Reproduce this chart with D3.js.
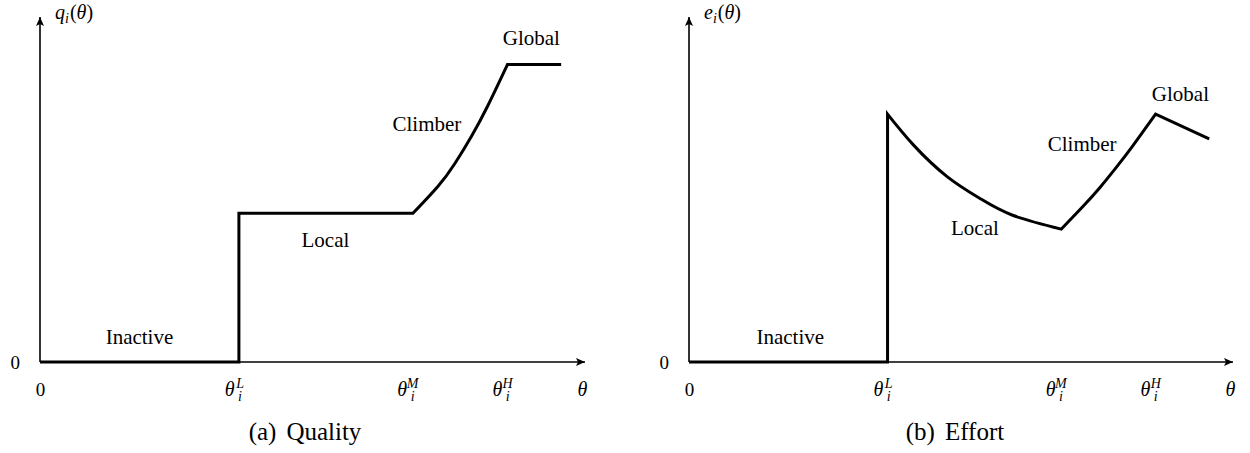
<!DOCTYPE html>
<html><head><meta charset="utf-8">
<script src="https://cdn.jsdelivr.net/npm/d3@7"></script>
<style>
body{margin:0;background:#fff}
svg{display:block}
</style>
</head><body>
<svg id="c" width="1250" height="453"></svg>
<script>
// ---------- data ----------
const thetaTickValues = [0, 2, 3.75, 4.7, 5.5];
const thetaTickLabels = ["0", "θ_i^L", "θ_i^M", "θ_i^H", "θ"];
const valueTickValues = [0];
const valueTickLabels = ["0"];
const regimeNames = ["Inactive", "Local", "Climber", "Global"];

// (a) Quality q_i(θ)
const qInactiveTheta = [0, 2];
const qInactiveValue = [0, 0];
const qLocalTheta = [2, 3.75];
const qLocalValue = [1.5, 1.5];
const qClimberTheta = [3.75, 4.0, 4.17, 4.34, 4.5, 4.7];
const qClimberValue = [1.5, 1.77, 2.0, 2.28, 2.58, 3.0];
const qGlobalTheta = [4.7, 5.24];
const qGlobalValue = [3.0, 3.0];

// (b) Effort e_i(θ)
const eInactiveTheta = [0, 2];
const eInactiveValue = [0, 0];
const eLocalTheta = [2.0, 2.26, 2.6, 2.93, 3.26, 3.75];
const eLocalValue = [2.5, 2.19, 1.87, 1.65, 1.48, 1.34];
const eClimberTheta = [3.75, 3.97, 4.14, 4.31, 4.47, 4.7];
const eClimberValue = [1.34, 1.57, 1.76, 1.97, 2.18, 2.5];
const eGlobalTheta = [4.7, 5.24];
const eGlobalValue = [2.5, 2.25];

const thetaDomain = [0, 5.5];
const valueDomain = [0, 3.5];

// ---------- layout ----------
const FONT = "Liberation Serif";
const svg = d3.select("#c");
const defs = svg.append("defs");
defs.append("marker").attr("id", "arr")
  .attr("markerUnits", "userSpaceOnUse")
  .attr("viewBox", "-10 -5 12 10").attr("refX", 0).attr("refY", 0)
  .attr("markerWidth", 12).attr("markerHeight", 10).attr("orient", "auto")
  .append("path").attr("d", "M-9,-4 L0,0 L-9,4 L-7,0 Z").attr("fill", "#000");

const panels = [
  {
    left: 40, right: 587, base: 362, top: 15,
    yName: "q", caption: ["(a)", "Quality"], capX: 305,
    pieces: [
      [qInactiveTheta, qInactiveValue, false],
      [qLocalTheta, qLocalValue, false],
      [qClimberTheta, qClimberValue, true],
      [qGlobalTheta, qGlobalValue, false]
    ],
    labelPos: [[1.0, 0.18], [2.87, 1.16], [3.89, 2.33], [4.94, 3.2]]
  },
  {
    left: 689, right: 1235, base: 362, top: 15,
    yName: "e", caption: ["(b)", "Effort"], capX: 955,
    pieces: [
      [eInactiveTheta, eInactiveValue, false],
      [eLocalTheta, eLocalValue, true],
      [eClimberTheta, eClimberValue, true],
      [eGlobalTheta, eGlobalValue, false]
    ],
    labelPos: [[1.02, 0.18], [2.88, 1.28], [3.96, 2.13], [4.95, 2.63]]
  }
];

function txt(sel) {
  return sel.append("text").style("font-family", FONT).attr("fill", "#000");
}

panels.forEach(p => {
  const x = d3.scaleLinear().domain(thetaDomain).range([p.left, p.right]);
  const y = d3.scaleLinear().domain(valueDomain).range([p.base, p.top]);
  const g = svg.append("g");

  // axis lines with arrows
  g.append("line")
    .attr("x1", x(0)).attr("y1", y(0)).attr("x2", x(thetaDomain[1]) - 2).attr("y2", y(0))
    .attr("stroke", "#000").attr("stroke-width", 1.6).attr("marker-end", "url(#arr)");
  g.append("line")
    .attr("x1", x(0)).attr("y1", y(0)).attr("x2", x(0)).attr("y2", y(valueDomain[1]) + 2)
    .attr("stroke", "#000").attr("stroke-width", 1.6).attr("marker-end", "url(#arr)");

  // x ticks (labels only)
  const xAxis = g.append("g").attr("transform", `translate(0,${y(0)})`)
    .call(d3.axisBottom(x).tickValues(thetaTickValues).tickSize(0).tickFormat(""));
  xAxis.select(".domain").remove();
  xAxis.selectAll(".tick").each(function(d, i) {
    const lab = thetaTickLabels[i];
    const t = txt(d3.select(this)).attr("y", 34).style("font-size", "20px");
    if (lab === "0") {
      t.attr("text-anchor", "middle").style("font-size", "19px").text("0");
      return;
    }
    const m = lab.match(/^(.)(?:_(.))?(?:\^(.))?$/);
    t.append("tspan").style("font-style", "italic").text(m[1]);
    if (m[2]) {
      const w = t.node().getComputedTextLength();
      t.append("tspan").attr("x", w + 0.5).attr("y", 39).style("font-size", "14px")
        .style("font-style", "italic").text(m[2]);
      t.append("tspan").attr("x", w + 0.5).attr("y", 26).style("font-size", "14px")
        .style("font-style", "italic").text(m[3]);
    }
    const bb = t.node().getBBox();
    t.attr("transform", `translate(${-bb.width / 2},0)`);
  });

  // y tick
  const yAxis = g.append("g").attr("transform", `translate(${x(0)},0)`)
    .call(d3.axisLeft(y).tickValues(valueTickValues).tickSize(0).tickPadding(20)
      .tickFormat((d, i) => valueTickLabels[i]));
  yAxis.select(".domain").remove();
  yAxis.selectAll("text").style("font-size", "19px").style("font-family", FONT)
    .attr("dy", "0.32em");

  // y label
  const yl = txt(g).attr("x", x(0) + 15).attr("y", 19).style("font-size", "20px");
  yl.append("tspan").style("font-style", "italic").text(p.yName);
  yl.append("tspan").style("font-style", "italic").style("font-size", "14px").attr("dy", 4).text("i");
  yl.append("tspan").attr("dy", -4).attr("dx", 1).text("(");
  yl.append("tspan").style("font-style", "italic").text("θ");
  yl.append("tspan").text(")");

  // curve
  let d = "";
  let last = null;
  p.pieces.forEach(([th, va, smooth]) => {
    const pts = th.map((t, i) => [t, va[i]]);
    const line = d3.line().x(q => x(q[0])).y(q => y(q[1]))
      .curve(smooth ? d3.curveNatural : d3.curveLinear);
    let s = line(pts);
    if (last) {
      if (last[0] === pts[0][0] && last[1] === pts[0][1]) s = s.replace(/^M[^A-Za-z]*/, "");
      else s = s.replace(/^M/, "L");
    }
    d += s;
    last = pts[pts.length - 1];
  });
  g.append("path").attr("d", d).attr("fill", "none").attr("stroke", "#000")
    .attr("stroke-width", 3).attr("stroke-linejoin", "miter").attr("stroke-miterlimit", 10);

  // regime labels
  regimeNames.forEach((n, i) => {
    txt(g).attr("x", x(p.labelPos[i][0])).attr("y", y(p.labelPos[i][1]))
      .attr("text-anchor", "middle").style("font-size", "21px").text(n);
  });

  // caption
  const c = txt(g).attr("x", p.capX).attr("y", 440).attr("text-anchor", "middle")
    .style("font-size", "25px");
  c.append("tspan").text(p.caption[0]);
  c.append("tspan").attr("dx", 10).text(p.caption[1]);
});
</script>
</body></html>
